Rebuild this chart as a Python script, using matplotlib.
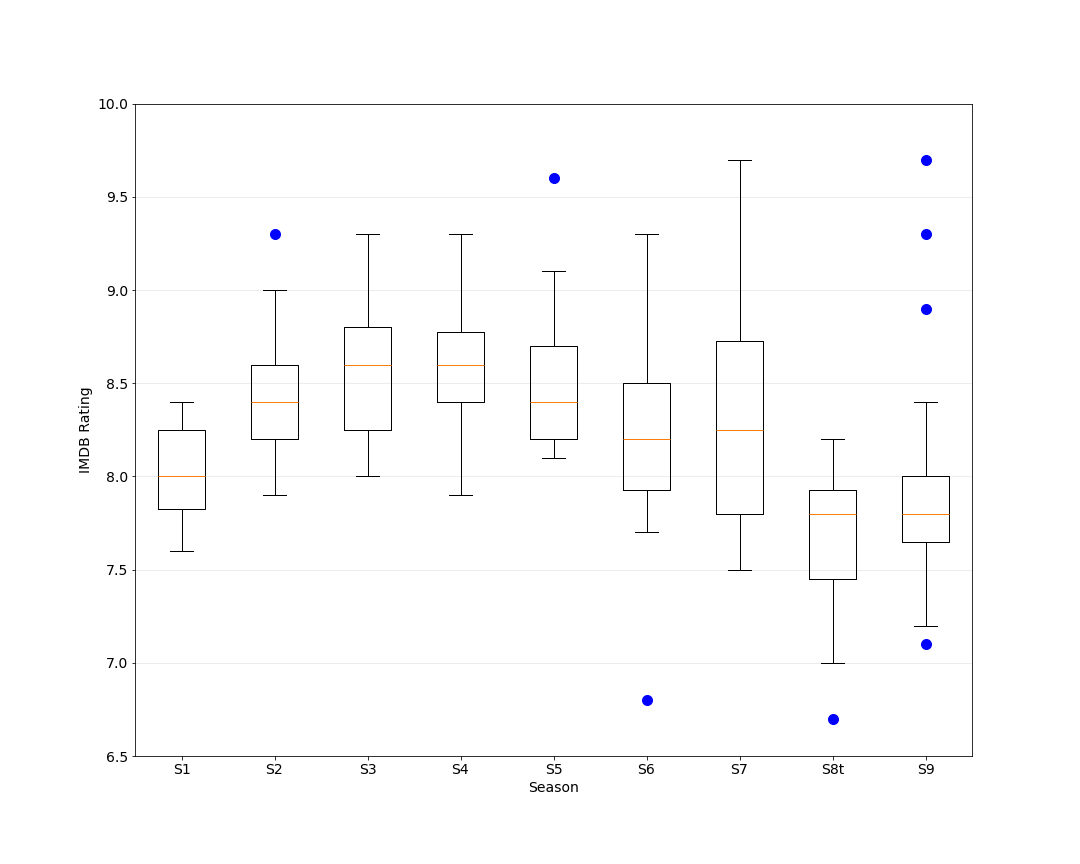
"""Box plot of IMDB ratings per season."""
import matplotlib
matplotlib.use("Agg")
import matplotlib.pyplot as plt

seasons = ["S1", "S2", "S3", "S4", "S5", "S6", "S7", "S8t", "S9"]
whislo = [7.6, 7.9, 8.0, 7.9, 8.1, 7.7, 7.5, 7.0, 7.2]
q1 = [7.825, 8.2, 8.25, 8.4, 8.2, 7.925, 7.8, 7.45, 7.65]
med = [8.0, 8.4, 8.6, 8.6, 8.4, 8.2, 8.25, 7.8, 7.8]
q3 = [8.25, 8.6, 8.8, 8.775, 8.7, 8.5, 8.725, 7.925, 8.0]
whishi = [8.4, 9.0, 9.3, 9.3, 9.1, 9.3, 9.7, 8.2, 8.4]
fliers = [[], [9.3], [], [], [9.6], [6.8], [], [6.7], [7.1, 8.9, 9.3, 9.7]]

plt.rcParams["font.size"] = 14

stats = []
for i, name in enumerate(seasons):
    stats.append({
        "label": name, "whislo": whislo[i], "q1": q1[i], "med": med[i],
        "q3": q3[i], "whishi": whishi[i], "fliers": fliers[i],
    })

# 15x12 in at 72 dpi -> 1080x864
fig, ax = plt.subplots(figsize=(15, 12), dpi=72)
fig.subplots_adjust(left=0.125, right=0.9, top=0.88, bottom=0.125)

ax.bxp(
    stats,
    flierprops=dict(marker="o", markerfacecolor="blue", markeredgecolor="blue",
                    markersize=10),
)

ax.set_ylim(6.5, 10.0)
ax.yaxis.grid(True, color="#e8e8e8", linewidth=0.8)
ax.set_axisbelow(True)
ax.set_xlabel("Season")
ax.set_ylabel("IMDB Rating")

fig.savefig("out.png", dpi=72)
plt.close(fig)
